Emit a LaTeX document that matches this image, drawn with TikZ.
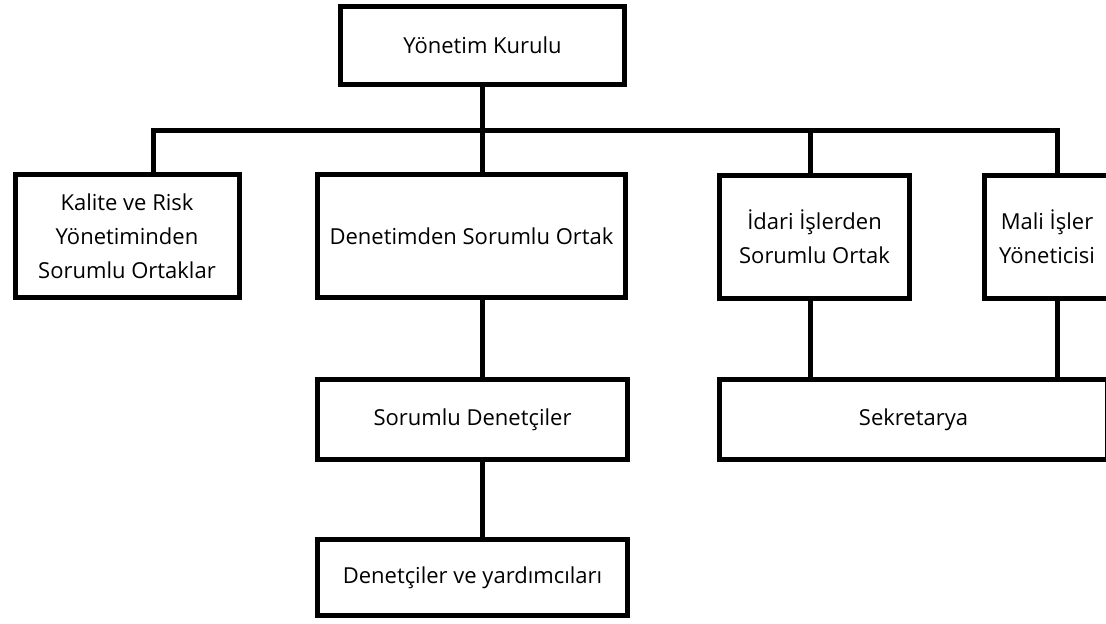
\documentclass[tikz,border=0pt]{standalone}
\usepackage{fontspec}
\setmainfont{Open Sans}
\usepackage{tikz}
\usetikzlibrary{
  calc,
  positioning,
}
\tikzstyle{unit} = [
  rectangle,
  draw,
  line width=2.5pt,
  align=center,
  inner sep=2pt,
  font=\fontsize{11}{17}\selectfont,
]
\tikzstyle{link} = [
  line width=2.5pt,
]

\begin{document}
\begin{tikzpicture}[x=0.5pt,y=-0.5pt]

        \useasboundingbox (0,0) rectangle (1106,624);

        % top of the chart
        \node[unit,minimum width=142pt,minimum height=39pt] (board) at (482.5,45.5) {Yönetim Kurulu};

        % partners row
        \node[unit,minimum width=112pt,minimum height=61.5pt] (quality) at (127,236) {Kalite ve Risk\\Yönetiminden\\Sorumlu Ortaklar};
        \node[unit,minimum width=154pt,minimum height=61.5pt] (audit) at (471.5,236) {Denetimden Sorumlu Ortak};
        \node[unit,minimum width=95pt,minimum height=61.5pt] (admin) at (814.5,237) {İdari İşlerden\\Sorumlu Ortak};
        \node[unit,minimum width=63pt,minimum height=61.5pt] (finance) at (1047,237) {Mali İşler\\Yöneticisi};

        % lower rows
        \node[unit,minimum width=155pt,minimum height=40pt] (auditors) at (472.5,419.5) {Sorumlu Denetçiler};
        \node[unit,minimum width=194pt,minimum height=40pt] (secretary) at (913.5,419.5) {Sekretarya};
        \node[unit,minimum width=155pt,minimum height=38pt] (assistants) at (472.5,577.5) {Denetçiler ve yardımcıları};

        % bus line
        \coordinate (busL) at (153,131);
        \coordinate (busR) at (1057,131);
        \coordinate (busA) at (810,131);

        \draw[link] (busL |- quality.north) -- (busL) -- (busR) -- (busR |- finance.north);
        \draw[link] (board.south) -- (board.south |- busL);
        \draw[link] (board.south |- busL) -- (board.south |- audit.north);
        \draw[link] (busA) -- (busA |- admin.north);

        \draw[link] (board.south |- audit.south) -- (board.south |- auditors.north);
        \draw[link] (board.south |- auditors.south) -- (board.south |- assistants.north);
        \draw[link] (busA |- admin.south) -- (busA |- secretary.north);
        \draw[link] (busR |- finance.south) -- (busR |- secretary.north);

      \end{tikzpicture}
\end{document}
